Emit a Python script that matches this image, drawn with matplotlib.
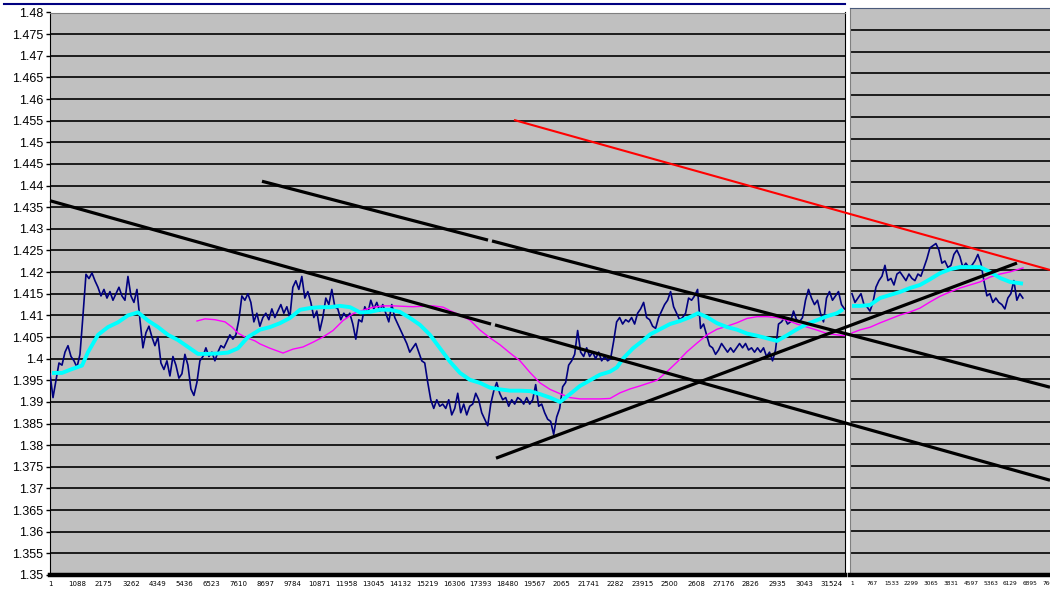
import matplotlib.pyplot as plt
from matplotlib.lines import Line2D
import numpy as np

# ---- data (bar index / price) ----
left_step = 121     # bars between two samples of the left chart
right_step = 116    # bars between two samples of the right chart

left_price = [
    1.3965, 1.3910, 1.3950, 1.3990, 1.3985, 1.4015, 1.4030, 1.4005, 1.3995, 1.3980,
    1.4010, 1.4100, 1.4195, 1.4185, 1.4198, 1.4180, 1.4165, 1.4145, 1.4160, 1.4140,
    1.4155, 1.4135, 1.4150, 1.4165, 1.4145, 1.4135, 1.4190, 1.4145, 1.4130, 1.4160,
    1.4090, 1.4025, 1.4060, 1.4075, 1.4050, 1.4030, 1.4050, 1.3990, 1.3975, 1.3995,
    1.3960, 1.4005, 1.3985, 1.3955, 1.3965, 1.4010, 1.3985, 1.3930, 1.3915, 1.3945,
    1.3995, 1.4005, 1.4025, 1.4005, 1.4015, 1.3995, 1.4015, 1.4030, 1.4025, 1.4040,
    1.4055, 1.4045, 1.4055, 1.4090, 1.4145, 1.4135, 1.4150, 1.4130, 1.4085, 1.4105,
    1.4075, 1.4095, 1.4105, 1.4090, 1.4115, 1.4095, 1.4110, 1.4125, 1.4105, 1.4120,
    1.4095, 1.4165, 1.4180, 1.4160, 1.4190, 1.4140, 1.4155, 1.4130, 1.4095, 1.4110,
    1.4065, 1.4095, 1.4140, 1.4125, 1.4160, 1.4120, 1.4115, 1.4090, 1.4105, 1.4095,
    1.4105, 1.4080, 1.4045, 1.4090, 1.4085, 1.4120, 1.4105, 1.4135, 1.4115, 1.4130,
    1.4110, 1.4125, 1.4105, 1.4085, 1.4125, 1.4095, 1.4080, 1.4065, 1.4050, 1.4035,
    1.4015, 1.4025, 1.4035, 1.4015, 1.3995, 1.3990, 1.3945, 1.3905, 1.3885, 1.3905,
    1.3890, 1.3895, 1.3885, 1.3905, 1.3870, 1.3885, 1.3920, 1.3875, 1.3895, 1.3870,
    1.3890, 1.3895, 1.3920, 1.3905, 1.3875, 1.3860, 1.3845, 1.3895, 1.3925, 1.3945,
    1.3920, 1.3905, 1.3910, 1.3890, 1.3905, 1.3895, 1.3910, 1.3905, 1.3895, 1.3910,
    1.3895, 1.3905, 1.3940, 1.3890, 1.3895, 1.3875, 1.3860, 1.3855, 1.3825, 1.3865,
    1.3885, 1.3935, 1.3945, 1.3985, 1.3995, 1.4010, 1.4065, 1.4015, 1.4005, 1.4025,
    1.4005, 1.4015, 1.4000, 1.4015, 1.3995, 1.4005, 1.3995, 1.4000, 1.4040, 1.4085,
    1.4095, 1.4080, 1.4090, 1.4085, 1.4095, 1.4080, 1.4105, 1.4115, 1.4130, 1.4095,
    1.4090, 1.4075, 1.4070, 1.4095, 1.4110, 1.4125, 1.4135, 1.4155, 1.4120, 1.4105,
    1.4090, 1.4095, 1.4105, 1.4140, 1.4135, 1.4145, 1.4160, 1.4070, 1.4080, 1.4055,
    1.4030, 1.4025, 1.4010, 1.4020, 1.4035, 1.4025, 1.4015, 1.4025, 1.4015, 1.4025,
    1.4035, 1.4025, 1.4035, 1.4020, 1.4025, 1.4015, 1.4025, 1.4015, 1.4025, 1.4005,
    1.4015, 1.3995, 1.4020, 1.4080, 1.4085, 1.4095, 1.4080, 1.4085, 1.4110, 1.4090,
    1.4085, 1.4095, 1.4135, 1.4160, 1.4140, 1.4125, 1.4135, 1.4105, 1.4085, 1.4140,
    1.4155, 1.4135, 1.4145, 1.4155, 1.4125, 1.4115,
]

# slow average (cyan)
cyan_x = [81, 484, 888, 1292, 1534, 1937, 2341, 2744, 3148, 3552, 3955, 4359, 4762,
          5166, 5570, 5973, 6377, 6780, 7184, 7588, 7991, 8476, 8879, 9283, 9686,
          10090, 10494, 10897, 11301, 11704, 12108, 12512, 12915, 13319, 13722,
          14126, 14530, 14933, 15337, 15740, 16144, 16548, 16951, 17355, 17758,
          18162, 18566, 18969, 19373, 19776, 20180, 20584, 20987, 21391, 21794,
          22198, 22602, 22884, 23126, 23530, 23933, 24216, 24620, 25023, 25427,
          25830, 26153, 26517, 26920, 27324, 27727, 28131, 28535, 28938, 29342,
          29745, 30149, 30553, 30956, 31360, 31763, 32005]
cyan_y = [1.3967, 1.3967, 1.3976, 1.3984, 1.4015, 1.4055, 1.4073, 1.4084, 1.4100,
          1.4107, 1.4088, 1.4073, 1.4055, 1.4043, 1.4027, 1.4011, 1.4011, 1.4012,
          1.4014, 1.4024, 1.4050, 1.4067, 1.4073, 1.4082, 1.4094, 1.4113, 1.4117,
          1.4119, 1.4119, 1.4122, 1.4119, 1.4107, 1.4108, 1.4113, 1.4113, 1.4108,
          1.4094, 1.4078, 1.4055, 1.4024, 1.3993, 1.3967, 1.3951, 1.3944, 1.3933,
          1.3929, 1.3926, 1.3926, 1.3925, 1.3918, 1.3910, 1.3900, 1.3918, 1.3937,
          1.3950, 1.3963, 1.3970, 1.3980, 1.4000, 1.4024, 1.4042, 1.4056, 1.4068,
          1.4080, 1.4087, 1.4096, 1.4105, 1.4096, 1.4082, 1.4073, 1.4067, 1.4058,
          1.4053, 1.4047, 1.4041, 1.4054, 1.4068, 1.4080, 1.4089, 1.4098, 1.4105,
          1.4114]

# long average (magenta)
mag_x = [5933, 6256, 6659, 7063, 7346, 7588, 7870, 8274, 8476, 8879, 9404, 9807,
         10211, 10615, 11018, 11422, 11825, 12229, 12633, 13036, 13440, 13843,
         14651, 15458, 15861, 16144, 16548, 16951, 17355, 17758, 18162, 18566,
         18969, 19373, 19776, 20180, 20584, 20987, 21391, 22198, 22602, 23005,
         23409, 23812, 24499, 24902, 25306, 25709, 26113, 26517, 26920, 27324,
         27727, 28131, 28535, 28938, 29342, 29745, 30149, 30553, 30956, 31360,
         31763, 32086]
mag_y = [1.4087, 1.4092, 1.4090, 1.4085, 1.4073, 1.4059, 1.4050, 1.4041, 1.4034,
         1.4024, 1.4013, 1.4022, 1.4027, 1.4038, 1.4050, 1.4065, 1.4088, 1.4104,
         1.4112, 1.4119, 1.4122, 1.4122, 1.4120, 1.4122, 1.4119, 1.4111, 1.4101,
         1.4089, 1.4066, 1.4048, 1.4032, 1.4013, 1.3995, 1.3968, 1.3944, 1.3929,
         1.3919, 1.3910, 1.3907, 1.3907, 1.3908, 1.3921, 1.3930, 1.3937, 1.3950,
         1.3970, 1.3992, 1.4016, 1.4036, 1.4055, 1.4068, 1.4075, 1.4083, 1.4093,
         1.4097, 1.4097, 1.4095, 1.4089, 1.4080, 1.4073, 1.4066, 1.4058, 1.4055,
         1.4053]

right_price = [
    1.4145, 1.4125, 1.4135, 1.4145, 1.4120, 1.4115, 1.4105, 1.4125, 1.4160, 1.4175,
    1.4185, 1.4210, 1.4175, 1.4180, 1.4165, 1.4190, 1.4195, 1.4185, 1.4175, 1.4190,
    1.4180, 1.4175, 1.4190, 1.4185, 1.4205, 1.4225, 1.4250, 1.4255, 1.4260, 1.4245,
    1.4215, 1.4220, 1.4205, 1.4210, 1.4235, 1.4245, 1.4230, 1.4205, 1.4215, 1.4205,
    1.4210, 1.4220, 1.4235, 1.4215, 1.4175, 1.4140, 1.4145, 1.4125, 1.4135, 1.4125,
    1.4120, 1.4110, 1.4135, 1.4145, 1.4175, 1.4130, 1.4145, 1.4135,
]
r_avg_x = [0, 310, 697, 1084, 1471, 1858, 2245, 2632, 3019, 3406, 3793, 4180,
           4567, 4954, 5341, 5728, 6115, 6618]
r_cyan_y = [1.4117, 1.4117, 1.4119, 1.4135, 1.4142, 1.4149, 1.4158, 1.4165, 1.4178,
            1.4192, 1.4201, 1.4206, 1.4206, 1.4206, 1.4195, 1.4181, 1.4172, 1.4168]
r_mag_y = [1.4055, 1.4062, 1.4068, 1.4078, 1.4087, 1.4096, 1.4103, 1.4112, 1.4126,
           1.4139, 1.4149, 1.4158, 1.4165, 1.4172, 1.4183, 1.4190, 1.4195, 1.4204]

# hand drawn trend lines, in the bar/price units of the left chart
trend_black = [
    ([0, 17800], [1.4365, 1.4080]),
    ([17960, 40360], [1.4078, 1.3719]),
    ([8556, 17678], [1.4410, 1.4274]),
    ([17839, 40360], [1.4272, 1.3934]),
    ([18001, 39028], [1.3770, 1.4221]),
]
trend_red = ([18767, 40360], [1.4551, 1.4205])

# axis labels
y_ticks = [round(1.35 + 0.005 * i, 3) for i in range(27)]
y_labels = ['%g' % v for v in y_ticks]
left_xticks = [1 + 1087 * i for i in range(30)]
left_xlabels = ['1', '1088', '2175', '3262', '4349', '5436', '6523', '7610', '8697',
                '9784', '10871', '11958', '13045', '14132', '15219', '16306', '17393',
                '18480', '19567', '2065', '21741', '2282', '23915', '2500', '2608',
                '27176', '2826', '2935', '3043', '31524']
right_xticks = [1 + 766 * i for i in range(11)]
right_xlabels = ['1', '767', '1533', '2299', '3065', '3831', '4597', '5363', '6129',
                 '6895', '7661']

# ---- drawing ----
W, H = 1050, 590
BG = '#c0c0c0'
NAVY = '#000080'


def box(x0, y0, x1, y1):
    return [x0 / W, 1 - y1 / H, (x1 - x0) / W, (y1 - y0) / H]


fig = plt.figure(figsize=(W / 100, H / 100), dpi=100)
fig.patch.set_facecolor('white')

ax = fig.add_axes(box(50, 12.5, 845, 575))
ax2 = fig.add_axes(box(850, 8, 1100, 575))
top = fig.add_axes(box(50, 12.5, 1050, 575))

for a in (ax, ax2):
    a.set_facecolor(BG)
    a.set_ylim(1.35, 1.48)
    a.set_yticks(y_ticks)
    a.grid(axis='y', color='black', lw=1.2)
    a.set_axisbelow(True)
    a.yaxis.get_gridlines()[-1].set_visible(False)
    a.spines['bottom'].set_linewidth(3.2)
    a.spines['bottom'].set_color('black')
    a.tick_params(axis='x', length=0, pad=4)

# left chart
ax.set_xlim(0, 32086)
ax.set_yticklabels(y_labels, fontsize=9, family='Liberation Sans')
ax.tick_params(axis='y', length=3, width=1, pad=2)
ax.set_xticks(left_xticks)
ax.set_xticklabels(left_xlabels, fontsize=5, family='DejaVu Sans')
ax.spines['left'].set_color('black')
ax.spines['right'].set_color('black')
ax.spines['top'].set_color('#808080')

lx = np.arange(len(left_price)) * left_step
ax.plot(lx, left_price, color=NAVY, lw=1.2, zorder=3)
ax.plot(mag_x, mag_y, color='#ff00ff', lw=1.0, zorder=4)
ax.plot(cyan_x, cyan_y, color='#00ffff', lw=2.8, zorder=5, solid_capstyle='butt')

# right chart
ax2.set_xlim(-77, 9598)
ax2.set_yticklabels([])
ax2.tick_params(axis='y', length=0)
ax2.set_xticks(right_xticks)
ax2.set_xticklabels(right_xlabels, fontsize=4.2, family='DejaVu Sans')
ax2.spines['left'].set_color('#808080')
ax2.spines['top'].set_color('#4a5a7a')
ax2.spines['right'].set_visible(False)

rx = np.arange(len(right_price)) * right_step
ax2.plot(rx, right_price, color=NAVY, lw=1.2, zorder=3)
ax2.plot(r_avg_x, r_mag_y, color='#ff00ff', lw=1.0, zorder=4)
ax2.plot(r_avg_x, r_cyan_y, color='#00ffff', lw=2.8, zorder=5, solid_capstyle='butt')

# trend lines drawn over both charts
top.set_xlim(0, 40360)
top.set_ylim(1.35, 1.48)
top.axis('off')
top.patch.set_visible(False)
for xs, ys in trend_black:
    top.plot(xs, ys, color='black', lw=2.3, solid_capstyle='butt', clip_on=False)
top.plot(trend_red[0], trend_red[1], color='#ff0000', lw=1.5, clip_on=False)

# window frame at the top
fig.add_artist(Line2D([4 / W, 845 / W], [1 - 4 / H] * 2, color=NAVY, lw=1.5))

fig.savefig('out.png', dpi=100)
